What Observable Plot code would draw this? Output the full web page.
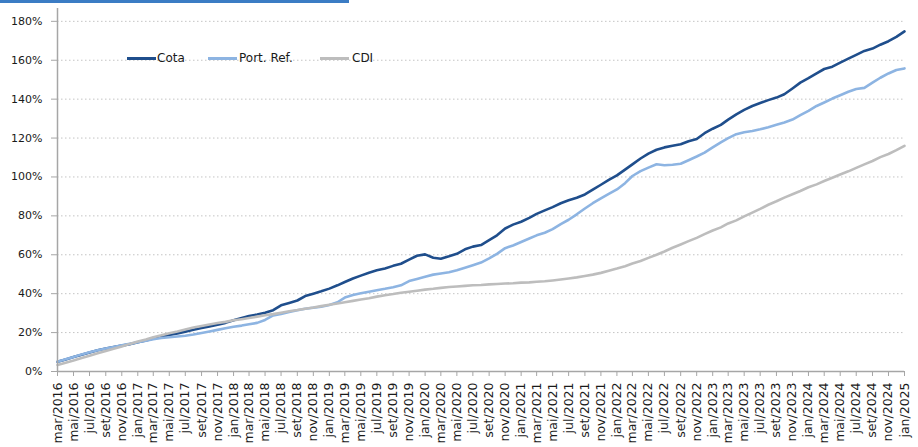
<!DOCTYPE html>
<html>
<head>
<meta charset="utf-8">
<script src="https://cdn.jsdelivr.net/npm/d3@7"></script>
<script src="https://cdn.jsdelivr.net/npm/@observablehq/plot@0.6"></script>
<style>
  html, body { margin: 0; padding: 0; background: #fff; }
  #wrap { position: relative; width: 918px; height: 447px; overflow: hidden; }
  #topbar { position: absolute; left: 0; top: 0; width: 349px; height: 3px; background: #3b7cc4; }
  .lg { position: absolute; font-family: "DejaVu Sans", sans-serif; font-size: 12px; color: #1a1a1a; line-height: 14px; }
  .sw { position: absolute; height: 3px; }
</style>
</head>
<body>
<div id="wrap">
  <div id="chart"></div>
  <div id="topbar"></div>
  <div id="legend"></div>
</div>
<script>
// Month abbreviations (pt-BR) used for the tick labels
const monthNames = ["jan","fev","mar","abr","mai","jun","jul","ago","set","out","nov","dez"];
const startYear = 2016;
const startMonth = 2; // mar

const seriesNames = ["Cota", "Port. Ref.", "CDI"];
const seriesColors = ["#1f4e8c", "#8db4e2", "#bdbdbd"];

// Monthly values (%), mar/2016 ... jan/2025
const cota = [
  5.0, 6.2, 7.4, 8.6, 9.8, 10.9, 11.8, 12.6, 13.3, 14.0,
  15.0, 16.0, 17.0, 17.8, 18.8, 19.6, 20.5, 21.5, 22.4, 23.2,
  24.0, 25.0, 26.3, 27.5, 28.5, 29.3, 30.2, 31.5, 34.0, 35.2,
  36.5, 38.8, 40.0, 41.2, 42.6, 44.3, 46.0, 47.8, 49.3, 50.8,
  52.0, 53.0, 54.3, 55.4, 57.5, 59.5, 60.2, 58.5, 58.0, 59.2,
  60.5, 62.8, 64.2, 65.0, 67.5, 70.0, 73.5, 75.5, 77.0, 79.0,
  81.0, 82.8, 84.5, 86.5, 88.0, 89.3, 91.0, 93.5, 96.0, 98.5,
  100.8, 103.8, 106.5, 109.5, 112.0, 114.0, 115.2, 116.0, 116.8, 118.4,
  119.5, 122.5, 124.8, 126.8, 129.5, 132.2, 134.5, 136.5, 138.0, 139.5,
  140.8, 142.5, 145.5, 148.5, 150.8, 153.3, 155.5, 156.7, 158.8, 160.8,
  162.8, 164.8, 166.0, 168.0, 169.8, 172.0, 174.8
];
const portRef = [
  5.0, 6.3, 7.5, 8.8, 9.9, 10.9, 11.8, 12.6, 13.5, 14.2,
  15.0, 15.8, 16.6, 17.2, 17.6, 18.0, 18.4, 19.0, 19.8, 20.6,
  21.4, 22.2, 23.0, 23.6, 24.3, 25.0, 26.5, 28.8, 29.6, 30.6,
  31.5, 32.3, 32.8, 33.3, 34.2, 35.6, 38.0, 39.3, 40.2, 41.0,
  41.8, 42.5, 43.3, 44.3, 46.5, 47.6, 48.7, 49.8, 50.4, 51.0,
  52.0, 53.3, 54.6, 56.0, 58.2, 60.5, 63.4, 64.8, 66.6, 68.4,
  70.0, 71.3, 73.2, 75.8, 78.0, 80.8, 83.8, 86.5, 89.0, 91.3,
  93.6, 96.8, 100.5, 103.0, 104.8, 106.5, 106.0, 106.3, 106.8, 108.6,
  110.5, 112.5, 115.2, 117.8, 120.0, 122.0, 123.0, 123.6, 124.5, 125.6,
  126.8, 128.0, 129.5, 131.8, 134.0, 136.5, 138.3, 140.3, 142.0, 143.8,
  145.2, 145.8, 148.5, 151.0, 153.2, 155.0, 155.8
];
const cdi = [
  3.4, 4.5, 5.6, 6.9, 8.1, 9.4, 10.6, 11.7, 12.9, 14.2,
  15.4, 16.4, 17.6, 18.6, 19.7, 20.6, 21.6, 22.6, 23.4, 24.2,
  24.9, 25.5, 26.3, 26.9, 27.5, 28.2, 28.9, 29.5, 30.2, 31.0,
  31.6, 32.3, 32.9, 33.6, 34.3, 35.0, 35.6, 36.3, 37.0, 37.7,
  38.5, 39.2, 39.8, 40.5, 41.0, 41.5, 42.1, 42.5, 43.0, 43.4,
  43.7, 44.0, 44.3, 44.5, 44.8, 45.0, 45.2, 45.4, 45.7, 45.8,
  46.1, 46.4, 46.8, 47.3, 47.8, 48.4, 49.1, 49.8, 50.7, 51.8,
  52.9, 54.1, 55.5, 56.8, 58.4, 60.0, 61.7, 63.6, 65.3, 67.0,
  68.7, 70.6, 72.5, 74.1, 76.1, 77.7, 79.7, 81.7, 83.6, 85.7,
  87.5, 89.4, 91.1, 92.8, 94.7, 96.2, 97.9, 99.6, 101.3, 102.9,
  104.7, 106.5, 108.2, 110.2, 111.8, 113.8, 116.0
];

const yTicks = [0, 20, 40, 60, 80, 100, 120, 140, 160, 180];

// Build dates & labels
const dates = cota.map((_, i) => new Date(Date.UTC(startYear, startMonth + i, 1)));
const labelOf = d => monthNames[d.getUTCMonth()] + "/" + d.getUTCFullYear();
const xTicks = dates.filter((_, i) => i % 2 === 0);

const toRows = (vals) => vals.map((v, i) => ({date: dates[i], v}));
const allSeries = [cota, portRef, cdi];

const axisColor = "#a6a6a6";

const chart = Plot.plot({
  width: 918,
  height: 447,
  marginLeft: 57,
  marginRight: 14,
  marginTop: 8,
  marginBottom: 76,
  style: {fontFamily: "DejaVu Sans, sans-serif", fontSize: "11px", color: "#1a1a1a", background: "#fff"},
  x: {type: "utc", domain: [dates[0], dates[dates.length - 1]], label: null},
  y: {domain: [0, 186.6], label: null},
  marks: [
    Plot.gridY(yTicks.filter(t => t > 0), {stroke: "#c4c4c4", strokeOpacity: 1, strokeWidth: 1, strokeDasharray: "1.5 2.5"}),
    ...allSeries.map((vals, k) => Plot.line(toRows(vals), {
      x: "date", y: "v", stroke: seriesColors[k], strokeWidth: 2.6, curve: "linear"
    })),
    Plot.ruleY([0], {stroke: axisColor, strokeWidth: 1.5}),
    Plot.ruleX([dates[0]], {stroke: axisColor, strokeWidth: 1.5}),
    Plot.axisY(yTicks, {
      tickSize: 6, tickPadding: 9, stroke: axisColor, fill: "#1a1a1a",
      tickFormat: d => d + "%", fontSize: 11, label: null
    }),
    Plot.axisX(xTicks, {
      tickSize: 5, tickPadding: 6, tickRotate: -90, stroke: axisColor, fill: "#1a1a1a",
      tickFormat: labelOf, fontSize: 12.5, label: null
    })
  ]
});
document.getElementById("chart").appendChild(chart);

// Legend (inside plot area, top-left)
const legend = document.getElementById("legend");
const legendPos = [[127, 157], [208, 239], [320, 352]];
seriesNames.forEach((name, k) => {
  const sw = document.createElement("div");
  sw.className = "sw";
  sw.style.left = legendPos[k][0] + "px";
  sw.style.top = "57px";
  sw.style.width = "29px";
  sw.style.background = seriesColors[k];
  legend.appendChild(sw);
  const t = document.createElement("div");
  t.className = "lg";
  t.style.left = legendPos[k][1] + "px";
  t.style.top = "51px";
  t.textContent = name;
  legend.appendChild(t);
});
</script>
</body>
</html>
